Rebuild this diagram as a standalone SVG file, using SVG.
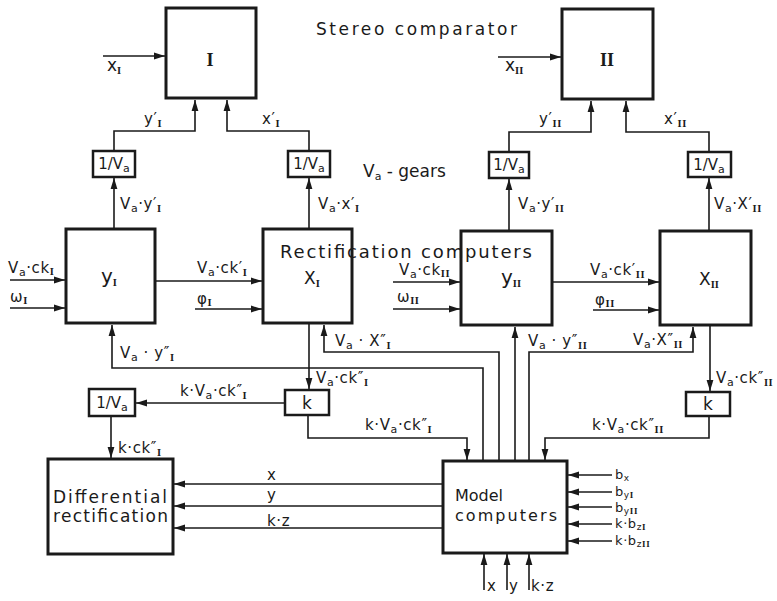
<svg xmlns="http://www.w3.org/2000/svg" width="777" height="601" viewBox="0 0 777 601">
<defs>
<marker id="ah" markerUnits="userSpaceOnUse" markerWidth="11" markerHeight="8" refX="11" refY="4" orient="auto"><path d="M0,0.6 L11,4 L0,7.4 z" fill="#1a1a1a"/></marker>
<style>
.box{fill:#fff;stroke:#1a1a1a;stroke-width:3}
.sb{fill:#fff;stroke:#1a1a1a;stroke-width:2.5}
.ln{fill:none;stroke:#1a1a1a;stroke-width:1.6}
.a{marker-end:url(#ah)}
text{font-family:"DejaVu Sans","Liberation Sans",sans-serif;fill:#1a1a1a}
.t{font-size:15px;letter-spacing:0.6px}
.bt{font-size:13px;letter-spacing:0.6px}
.s{font-size:11px}
.ss{font-size:9px}
.r{font-family:"Liberation Serif",serif;font-weight:bold;font-size:10.5px}
.rs{font-family:"Liberation Serif",serif;font-weight:bold;font-size:9px}
.R{font-family:"Liberation Serif",serif;font-weight:bold;font-size:18px}
.big{font-size:17px}
.bl{font-size:20px}
.mid{font-size:16px}
.lab{font-size:17px}
</style>
</defs>
<rect x="0" y="0" width="777" height="601" fill="#fff"/>

<g id="connectors">
<path class="ln a" d="M103,56 H165"/>
<path class="ln a" d="M114,151 V131 H195 V100"/>
<path class="ln a" d="M309,151 V131 H227 V100"/>
<path class="ln a" d="M114,229 V178"/>
<path class="ln a" d="M309,229 V178"/>
<path class="ln a" d="M498,57 H561"/>
<path class="ln a" d="M509,152 V132 H591 V101"/>
<path class="ln a" d="M709,152 V132 H626 V101"/>
<path class="ln a" d="M509,231 V179"/>
<path class="ln a" d="M709,231 V178"/>
<path class="ln a" d="M10,280 H65"/>
<path class="ln a" d="M10,308 H65"/>
<path class="ln a" d="M155,281 H262"/>
<path class="ln a" d="M195,309 H262"/>
<path class="ln a" d="M393,282 H460"/>
<path class="ln a" d="M393,309 H460"/>
<path class="ln a" d="M552,282 H659"/>
<path class="ln a" d="M593,310 H659"/>
<path class="ln a" d="M483,461 V368 H112 V325"/>
<path class="ln a" d="M499,461 V352 H324 V325"/>
<path class="ln a" d="M515,461 V327"/>
<path class="ln a" d="M529,461 V352 H693 V327"/>
<path class="ln a" d="M309,323 V389"/>
<path class="ln a" d="M710,325 V391"/>
<path class="ln a" d="M285,403 H136"/>
<path class="ln a" d="M111,416 V458"/>
<path class="ln a" d="M308,415 V438 H467 V460"/>
<path class="ln a" d="M709,416 V438 H545 V460"/>
<path class="ln a" d="M443,484 H174"/>
<path class="ln a" d="M443,506 H174"/>
<path class="ln a" d="M443,528 H174"/>
<path class="ln a" d="M612,475 H568"/>
<path class="ln a" d="M612,492 H568"/>
<path class="ln a" d="M612,507 H568"/>
<path class="ln a" d="M612,524 H568"/>
<path class="ln a" d="M612,541 H568"/>
<path class="ln a" d="M484,590 V554"/>
<path class="ln a" d="M507,590 V554"/>
<path class="ln a" d="M529,590 V554"/>
</g>

<g id="comparator-I"><rect class="box" x="166" y="8" width="90" height="90"/><text class="R" x="210" y="66" text-anchor="middle">I</text></g>
<g id="comparator-II"><rect class="box" x="562" y="9" width="91" height="90"/><text class="R" x="607" y="66" text-anchor="middle">II</text></g>

<g id="gear-yI"><rect class="sb" x="93" y="151" width="42" height="26"/><text class="t" x="114" y="169" text-anchor="middle" style="letter-spacing:0">1/V<tspan class="s" dy="3">a</tspan></text></g>
<g id="gear-xI"><rect class="sb" x="288" y="151" width="42" height="26"/><text class="t" x="309" y="169" text-anchor="middle" style="letter-spacing:0">1/V<tspan class="s" dy="3">a</tspan></text></g>
<g id="gear-yII"><rect class="sb" x="489" y="152" width="40" height="26"/><text class="t" x="509" y="170" text-anchor="middle" style="letter-spacing:0">1/V<tspan class="s" dy="3">a</tspan></text></g>
<g id="gear-xII"><rect class="sb" x="688" y="152" width="43" height="25"/><text class="t" x="709" y="170" text-anchor="middle" style="letter-spacing:0">1/V<tspan class="s" dy="3">a</tspan></text></g>

<g id="rect-yI"><rect class="box" x="66" y="229" width="89" height="94"/><text class="bl" x="101" y="283">y<tspan class="r" dy="3">I</tspan></text></g>
<g id="rect-xI"><rect class="box" x="263" y="229" width="89" height="94"/><text class="lab" x="304" y="284">X<tspan class="r" dy="3">I</tspan></text></g>
<g id="rect-yII"><rect class="box" x="461" y="231" width="91" height="94"/><text class="bl" x="501" y="284">y<tspan class="r" dy="3">II</tspan></text></g>
<g id="rect-xII"><rect class="box" x="660" y="231" width="91" height="94"/><text class="lab" x="699" y="285">X<tspan class="r" dy="3">II</tspan></text></g>

<g id="k-I"><rect class="sb" x="285" y="390" width="44" height="25"/><text class="lab" x="307" y="409" text-anchor="middle">k</text></g>
<g id="k-II"><rect class="sb" x="686" y="392" width="44" height="24"/><text class="lab" x="708" y="410" text-anchor="middle">k</text></g>
<g id="gear-diff"><rect class="sb" x="89" y="389" width="46" height="27"/><text class="t" x="112" y="408" text-anchor="middle" style="letter-spacing:0">1/V<tspan class="s" dy="3">a</tspan></text></g>

<g id="differential-rectification"><rect class="box" x="48" y="459" width="125" height="95"/><text class="lab" x="53" y="503" textLength="114">Differential</text><text class="lab" x="53" y="522" textLength="115">rectification</text></g>
<g id="model-computers"><rect class="box" x="443" y="461" width="124" height="92"/><text class="mid" x="455" y="501">Model</text><text class="mid" x="455" y="521" textLength="102">computers</text></g>

<g id="titles">
<text class="big" x="316" y="35" textLength="201">Stereo comparator</text>
<text class="big" x="363" y="177">V<tspan class="s" dy="3">a</tspan><tspan dy="-3"> - gears</tspan></text>
<text x="280" y="258" style="font-size:18px" textLength="252">Rectification computers</text>
</g>

<g id="connector-labels">
<text class="lab" x="107" y="71">x<tspan class="r" dy="3">I</tspan></text>
<text class="lab" x="505" y="71">x<tspan class="r" dy="3">II</tspan></text>
<text class="t" x="144" y="124">y′<tspan class="r" dy="3">I</tspan></text>
<text class="t" x="262" y="124">x′<tspan class="r" dy="3">I</tspan></text>
<text class="t" x="539" y="124">y′<tspan class="r" dy="3">II</tspan></text>
<text class="t" x="664" y="124">x′<tspan class="r" dy="3">II</tspan></text>

<text class="t" x="120" y="209">V<tspan class="s" dy="3">a</tspan><tspan dy="-3">·y′</tspan><tspan class="r" dy="3">I</tspan></text>
<text class="t" x="318" y="209">V<tspan class="s" dy="3">a</tspan><tspan dy="-3">·x′</tspan><tspan class="r" dy="3">I</tspan></text>
<text class="t" x="518" y="209">V<tspan class="s" dy="3">a</tspan><tspan dy="-3">·y′</tspan><tspan class="r" dy="3">II</tspan></text>
<text class="t" x="714" y="209">V<tspan class="s" dy="3">a</tspan><tspan dy="-3">·X′</tspan><tspan class="r" dy="3">II</tspan></text>

<text class="t" x="8" y="273">V<tspan class="s" dy="3">a</tspan><tspan dy="-3">·ck</tspan><tspan class="r" dy="2">I</tspan></text>
<text class="t" x="10" y="302">ω<tspan class="r" dy="2">I</tspan></text>
<text class="t" x="197" y="273">V<tspan class="s" dy="3">a</tspan><tspan dy="-3">·ck′</tspan><tspan class="r" dy="3">I</tspan></text>
<text class="t" x="197" y="304">φ<tspan class="r" dy="2">I</tspan></text>
<text class="t" x="399" y="275">V<tspan class="s" dy="3">a</tspan><tspan dy="-3">·ck</tspan><tspan class="r" dy="2">II</tspan></text>
<text class="t" x="397" y="302">ω<tspan class="r" dy="2">II</tspan></text>
<text class="t" x="590" y="275">V<tspan class="s" dy="3">a</tspan><tspan dy="-3">·ck′</tspan><tspan class="r" dy="3">II</tspan></text>
<text class="t" x="595" y="305">φ<tspan class="r" dy="2">II</tspan></text>

<text class="t" x="120" y="358">V<tspan class="s" dy="3">a</tspan><tspan dy="-3"> · y″</tspan><tspan class="r" dy="3">I</tspan></text>
<text class="t" x="335" y="346">V<tspan class="s" dy="3">a</tspan><tspan dy="-3"> · X″</tspan><tspan class="r" dy="3">I</tspan></text>
<text class="t" x="528" y="346">V<tspan class="s" dy="3">a</tspan><tspan dy="-3"> · y″</tspan><tspan class="r" dy="3">II</tspan></text>
<text class="t" x="633" y="345">V<tspan class="s" dy="3">a</tspan><tspan dy="-3">·X″</tspan><tspan class="r" dy="3">II</tspan></text>

<text class="t" x="316" y="383">V<tspan class="s" dy="3">a</tspan><tspan dy="-3">·ck″</tspan><tspan class="r" dy="3">I</tspan></text>
<text class="t" x="716" y="383">V<tspan class="s" dy="3">a</tspan><tspan dy="-3">·ck″</tspan><tspan class="r" dy="3">II</tspan></text>
<text class="t" x="180" y="396">k·V<tspan class="s" dy="3">a</tspan><tspan dy="-3">·ck″</tspan><tspan class="r" dy="3">I</tspan></text>
<text class="t" x="118" y="453">k·ck″<tspan class="r" dy="3">I</tspan></text>
<text class="t" x="365" y="430">k·V<tspan class="s" dy="3">a</tspan><tspan dy="-3">·ck″</tspan><tspan class="r" dy="3">I</tspan></text>
<text class="t" x="592" y="430">k·V<tspan class="s" dy="3">a</tspan><tspan dy="-3">·ck″</tspan><tspan class="r" dy="3">II</tspan></text>

<text class="t" x="267" y="480">x</text>
<text class="t" x="267" y="500">y</text>
<text class="t" x="267" y="526">k·z</text>

<text class="bt" x="615" y="479">b<tspan class="ss" dy="1.5">x</tspan></text>
<text class="bt" x="615" y="496">b<tspan class="ss" dy="1.5">y</tspan><tspan class="rs">I</tspan></text>
<text class="bt" x="615" y="512">b<tspan class="ss" dy="1.5">y</tspan><tspan class="rs">II</tspan></text>
<text class="bt" x="615" y="528">k·b<tspan class="ss" dy="1.5">z</tspan><tspan class="rs">I</tspan></text>
<text class="bt" x="615" y="545">k·b<tspan class="ss" dy="1.5">z</tspan><tspan class="rs">II</tspan></text>

<text class="t" x="487" y="591">x</text>
<text class="t" x="509" y="591">y</text>
<text class="t" x="531" y="591">k·z</text>
</g>
</svg>
